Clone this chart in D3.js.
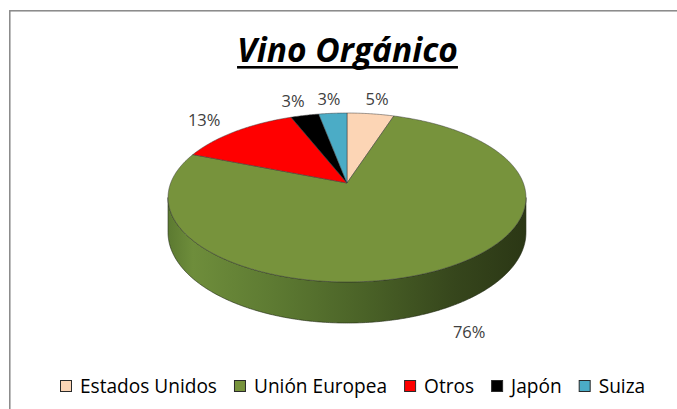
<!DOCTYPE html>
<html>
<head>
<meta charset="utf-8">
<script src="https://cdn.jsdelivr.net/npm/d3@7"></script>
<style>
  body { margin: 0; background: #fff; }
  svg { display: block; }
</style>
</head>
<body>
<div id="okvir"></div>
<script>
// podaci
const kategorije = ["Estados Unidos", "Unión Europea", "Otros", "Japón", "Suiza"]
const vrijednosti = [5, 76, 13, 3, 3]
const boje = ["#fcd5b5", "#77933c", "#ff0000", "#000000", "#4bacc6"]
const naslov = "Vino Orgánico"

const sirina = 677
const visina = 409

const okvir = d3.select("#okvir")
  .append("svg")
    .attr("width", sirina)
    .attr("height", visina)

// okvir grafa
okvir.append("rect")
    .attr("x", 9.8)
    .attr("y", 10.8)
    .attr("width", 800)
    .attr("height", 600)
    .attr("fill", "none")
    .attr("stroke", "#878787")
    .attr("stroke-width", 1.5)

// naslov
const naslovTekst = okvir.append("text")
    .attr("x", 347.5)
    .attr("y", 62)
    .attr("text-anchor", "middle")
    .style("font-family", "'Open Sans', 'Noto Sans', sans-serif")
    .style("font-weight", "bold")
    .style("font-style", "italic")
    .style("font-size", "32px")
    .attr("fill", "#000")
    .text(naslov)
let w = naslovTekst.node().getComputedTextLength()
naslovTekst.style("font-size", (32 * 221 / w) + "px")
w = naslovTekst.node().getComputedTextLength()
okvir.append("rect")
    .attr("x", 347.5 - w / 2)
    .attr("y", 66)
    .attr("width", w)
    .attr("height", 2.6)
    .attr("fill", "#000")

// 3D pita s perspektivom
const cx = 347, cy = 183
const rx = 176.3, ryDaleko = 82, k = 0.1716
const dubina = 34

const proj = (theta, r = 1) => {
  const u = r * Math.sin(theta), v = r * Math.cos(theta)
  const d = 1 + k * v
  return [cx + rx * u / d, cy - ryDaleko * v / d, d]
}

const pie = d3.pie().sort(null).value(d => d)
const lukovi = pie(vrijednosti)

const defs = okvir.append("defs")
const grad = defs.append("linearGradient")
    .attr("id", "strana")
    .attr("x1", "0%").attr("x2", "100%")
    .attr("y1", "0%").attr("y2", "0%")
const stopovi = [[0, "#5c7a31"], [0.07, "#6e8d3b"], [0.3, "#5d7a32"], [0.55, "#4a6227"], [0.8, "#36461c"], [1, "#2b3715"]]
grad.selectAll("stop").data(stopovi).join("stop")
    .attr("offset", d => d[0])
    .attr("stop-color", d => d[1])

// silueta: najljeviji i najdesniji kut
const uzorak = d3.range(0, 2 * Math.PI, 0.002)
const tDesno = uzorak[d3.maxIndex(uzorak, t => proj(t)[0])]
const tLijevo = uzorak[d3.minIndex(uzorak, t => proj(t)[0])]

const bocneTocke = d3.range(tDesno, tLijevo, 0.01).concat([tLijevo])
const gornji = bocneTocke.map(t => proj(t))
const donji = bocneTocke.map(t => {
  const p = proj(t)
  return [p[0], p[1] + dubina / p[2]]
}).reverse()

const linija = d3.line()
okvir.append("path")
    .attr("d", linija(gornji.concat(donji)) + "Z")
    .attr("fill", "url(#strana)")
    .attr("stroke", "#1e2610")
    .attr("stroke-width", 0.6)

// gornja ploha
const kriska = d => {
  const koraci = Math.max(2, Math.ceil((d.endAngle - d.startAngle) / 0.01))
  const tocke = d3.range(koraci + 1).map(i =>
    proj(d.startAngle + (d.endAngle - d.startAngle) * i / koraci))
  return linija([[cx, cy]].concat(tocke)) + "Z"
}

okvir.append("g")
  .selectAll("path")
  .data(lukovi)
  .join("path")
    .attr("d", kriska)
    .attr("fill", (d, i) => boje[i])
    .attr("stroke", "#3a3a3a")
    .attr("stroke-width", 0.5)
    .attr("stroke-linejoin", "round")

// oznake postotaka
const ukupno = d3.sum(vrijednosti)
const sredina = d => (d.startAngle + d.endAngle) / 2
okvir.append("g")
  .selectAll("text")
  .data(lukovi)
  .join("text")
    .attr("x", d => proj(sredina(d), 1.27)[0] + Math.sin(sredina(d)) * 8)
    .attr("y", d => {
      const p = proj(sredina(d), 1.25)
      const dolje = Math.cos(sredina(d)) < 0 ? dubina : 0
      return p[1] + dolje + 6
    })
    .attr("text-anchor", "middle")
    .style("font-family", "'Open Sans', 'Noto Sans', sans-serif")
    .style("font-size", "16.5px")
    .attr("fill", "#404040")
    .text(d => Math.round(d.value / ukupno * 100) + "%")

// legenda
const legenda = okvir.append("g")
const legY = 387
const fontLeg = "'Open Sans', 'Noto Sans', sans-serif"
const probni = legenda.append("text")
    .style("font-family", fontLeg)
    .style("font-size", "18px")
    .text(kategorije[0])
const velicina = 18 * 137 / probni.node().getComputedTextLength()
probni.remove()

let xPoz = 60
kategorije.forEach((kat, i) => {
  legenda.append("rect")
      .attr("x", xPoz + 0.5)
      .attr("y", legY - 6.5)
      .attr("width", 11)
      .attr("height", 11)
      .attr("fill", boje[i])
      .attr("stroke", "#2a2a2a")
      .attr("stroke-width", 1)
  const t = legenda.append("text")
      .attr("x", xPoz + 20)
      .attr("y", legY + 6)
      .style("font-family", fontLeg)
      .style("font-size", velicina + "px")
      .attr("fill", "#000")
      .text(kat)
  xPoz += 20 + t.node().getComputedTextLength() + 17
})
</script>
</body>
</html>
